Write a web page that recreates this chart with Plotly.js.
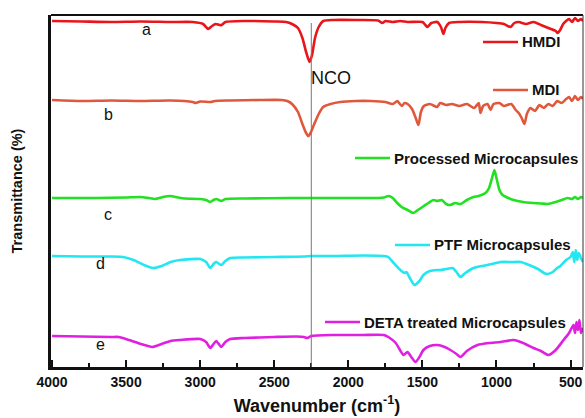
<!DOCTYPE html>
<html><head><meta charset="utf-8">
<script src="https://cdn.plot.ly/plotly-3.0.1.min.js"></script>
<style>html,body{margin:0;padding:0;background:#fff}#chart{width:585px;height:418px}</style>
</head><body><div id="chart"></div>
<script>
// Wavenumbers (cm-1) and transmittance (offset, a.u.)
const wnA = [4000,3800,3600,3400,3200,3050,2980,2946,2920,2895,2870,2855,2830,2700,2500,2420,2380,2340,2310,2285,2262,2245,2225,2200,2169,2100,1950,1800,1770,1750,1700,1650,1600,1500,1480,1466,1440,1400,1375,1358,1345,1320,1250,1100,1000,950,905,880,850,800,750,700,650,600,588,570,550,530,510,490,470,450,430,416];
const tA  = [346,345.5,345,345.5,345,345,343,338,341,343,342,342,345,346,345.5,345,343,339,329,315,305,312,329,340,346,347,347,346.5,344,346,345,346,345,345,342,340,344,345,340,333,339,344,345,345,344,343,340,344,345,343,345,342,339,336,334,337,343,346,348,345,349,346,348,346];

const wnB = [4000,3800,3600,3400,3200,3050,3030,3000,2930,2900,2800,2600,2450,2412,2380,2340,2310,2285,2270,2255,2230,2200,2170,2120,2054,1950,1850,1750,1700,1669,1640,1620,1600,1570,1545,1527,1510,1490,1450,1400,1380,1340,1300,1250,1200,1150,1120,1108,1090,1060,1040,1020,980,950,900,870,850,830,811,795,770,740,710,680,650,620,590,560,530,510,490,470,450,430,416];
const tB  = [267,266,266.5,266,266.5,265,264,265.5,265,266,266.5,267,267,266,263,255,243,234,231,234,243,253,260,263,265,266,266,265,263,266,261,264,263,258,249,242,255,261,263,260,264,262,263,261,263,259,264,254,261,263,257,263,264,261,263,257,254,249,243,253,259,256,262,259,263,261,266,264,268,270,266,271,267,270,268];

const wnC = [4000,3700,3500,3405,3350,3304,3250,3203,3150,3100,3000,2960,2932,2910,2890,2858,2830,2700,2400,2200,2000,1800,1760,1730,1700,1670,1640,1600,1561,1530,1490,1460,1426,1400,1370,1340,1311,1280,1243,1200,1155,1120,1074,1050,1030,1014,1000,980,959,920,885,820,750,700,655,600,560,520,490,470,450,430,416];
const tC  = [169,169,169.5,170,169,168,170,171,169.5,168.5,168,167,165,167,168,166,168,168.5,169,169,169,169,169.5,171,169,164,160,157,154,157,161,164,167,166,167,163,162,164,163,167,170,171,174,179,189,197,189,177,172,169,167,165,164,163.5,163,165,167,169,168,170,168,170,169];

const wnD = [4000,3800,3600,3520,3450,3380,3318,3260,3200,3135,3000,2960,2932,2910,2892,2858,2830,2797,2700,2500,2300,2250,2100,1900,1760,1730,1700,1649,1620,1608,1585,1554,1520,1493,1450,1400,1378,1340,1297,1270,1243,1210,1155,1100,1030,973,900,838,780,720,680,655,620,590,568,530,500,485,475,465,455,445,430,416];
const tD  = [111,110.5,110.5,110,107,102,99,101,105,107,108,105,99,103,105,102,106,109,109.5,110,110.5,111,111,111.5,111,110,105,97,94,95,89,82,86,92,96,97,97,98,99,95,90,94,99,101,103,105,105,105,102,98,94,93,95,99,101,107,110,115,105,117,107,114,109,105];

const wnE = [4000,3800,3600,3550,3480,3400,3324,3260,3200,3135,3000,2960,2932,2910,2892,2858,2830,2797,2700,2500,2350,2300,2277,2250,2100,1900,1760,1730,1680,1628,1601,1575,1547,1520,1493,1450,1399,1350,1311,1270,1243,1200,1128,1050,973,885,820,750,700,649,600,547,510,480,470,460,450,440,430,416];
const tE  = [31,30.5,30,30,27,23,20,23,26,27,28,25,19,23,26,20,25,28,29,30,30.5,30,29,31,32,32,32,30,24,12,15,10,5,10,17,21,22,20,17,13,10,16,22,24,25,27,24,19,16,12,17,27,34,42,34,45,37,47,34,39];

const seriesNames = ["HMDI","MDI","Processed Microcapsules","PTF Microcapsules","DETA treated Microcapsules"];
const curveLabels = ["a","b","c","d","e"];
const colors = ["#e8151b","#e0583c","#22e022","#22e6f0","#e020e0"];
const xTicks = [4000,3500,3000,2500,2000,1500,1000,500];
const ncoWavenumber = 2250;

const xs = [wnA,wnB,wnC,wnD,wnE];
const ys = [tA,tB,tC,tD,tE];

const traces = xs.map((x,i)=>({
  x:x, y:ys[i], type:'scatter', mode:'lines', name:seriesNames[i],
  line:{color:colors[i], width:2.6, shape:'spline', smoothing:0.6},
  showlegend:false, hoverinfo:'skip'
}));

const lx = (px)=> (px-51)/532;
const ly = (py)=> (367-py)/352;

// legend positions (paper) – line start, line end, y
const legendPos = [[483,518,42],[493,528,90],[355,390,158],[395,430,245],[325,360,322]];
const labelPos = [[146,29],[108,115],[108,214],[100,263],[100,344]];

const shapes = [];
const annotations = [];
legendPos.forEach((p,i)=>{
  shapes.push({type:'line', xref:'paper', yref:'paper', x0:lx(p[0]), x1:lx(p[1]), y0:ly(p[2]), y1:ly(p[2]), line:{color:colors[i], width:2.6}});
  annotations.push({xref:'paper', yref:'paper', x:lx(p[1]+2), y:ly(p[2]), xanchor:'left', yanchor:'middle', showarrow:false,
    text:'<b>'+seriesNames[i]+'</b>', font:{family:'Arial, Liberation Sans, sans-serif', size:15, color:'#111'}});
});
labelPos.forEach((p,i)=>{
  annotations.push({xref:'paper', yref:'paper', x:lx(p[0]), y:ly(p[1]), xanchor:'center', yanchor:'middle', showarrow:false,
    text:curveLabels[i], font:{family:'Arial, Liberation Sans, sans-serif', size:16, color:'#111'}});
});
// NCO marker
shapes.push({type:'line', xref:'x', yref:'paper', x0:ncoWavenumber, x1:ncoWavenumber, y0:0, y1:ly(23), line:{color:'#777', width:1}});
annotations.push({xref:'x', yref:'paper', x:ncoWavenumber, y:ly(78), xanchor:'left', yanchor:'middle', xshift:-2, showarrow:false,
  text:'NCO', font:{family:'Arial, Liberation Sans, sans-serif', size:18, color:'#111'}});
// frame top and right
shapes.push({type:'line', xref:'paper', yref:'paper', x0:0, x1:1, y0:1, y1:1, line:{color:'#111', width:2}});
shapes.push({type:'line', xref:'paper', yref:'paper', x0:1, x1:1, y0:0, y1:1, line:{color:'#333', width:1}});

const layout = {
  width:585, height:418,
  margin:{l:51, r:2, t:15, b:51},
  paper_bgcolor:'#fff', plot_bgcolor:'#fff',
  font:{family:'Arial, Liberation Sans, sans-serif', color:'#111'},
  xaxis:{
    range:[4007,416], tickvals:xTicks, ticktext:xTicks.map(v=>'<b>'+v+'</b>'),
    ticks:'inside', ticklen:7, tickwidth:2, tickcolor:'#111',
    minor:{dtick:250, tick0:0, ticks:'inside', ticklen:4, tickwidth:2, tickcolor:'#111', showgrid:false},
    showline:true, linewidth:3, linecolor:'#111', showgrid:false, zeroline:false,
    tickfont:{size:14, color:'#111'},
    title:{text:'<b>Wavenumber (cm<sup>-1</sup>)</b>', font:{size:18, color:'#111'}, standoff:11}
  },
  yaxis:{
    range:[0,352], showticklabels:false, ticks:'', showline:true, linewidth:3, linecolor:'#111',
    showgrid:false, zeroline:false,
    title:{text:'<b>Transmittance (%)</b>', font:{size:14.5, color:'#111'}, standoff:22}
  },
  shapes:shapes, annotations:annotations
};

Plotly.newPlot('chart', traces, layout, {displayModeBar:false, staticPlot:true});
</script>
</body></html>
